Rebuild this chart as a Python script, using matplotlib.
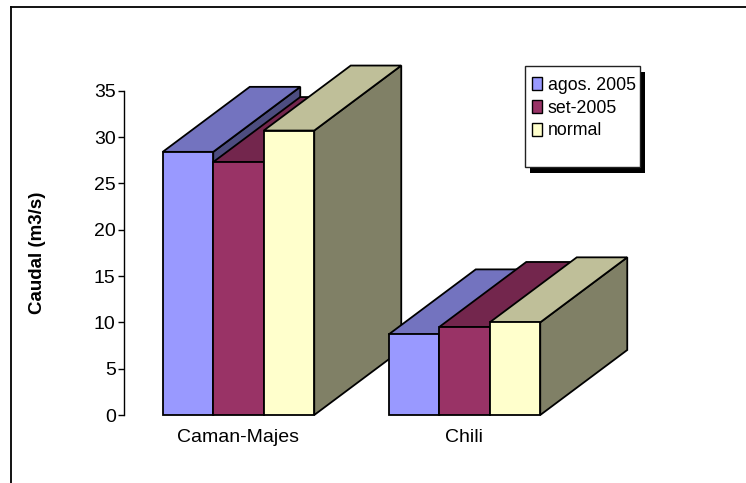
import matplotlib
matplotlib.use("Agg")
import matplotlib.pyplot as plt
from matplotlib.patches import Polygon, Rectangle, Patch
from matplotlib.lines import Line2D

plt.rcParams['font.family'] = ['Liberation Sans', 'DejaVu Sans']

categories = ["Caman-Majes", "Chili"]
series_names = ["agos. 2005", "set-2005", "normal"]
agos_2005 = [28.4, 8.7]
set_2005 = [27.3, 9.5]
normal = [30.7, 10.0]
values = [agos_2005, set_2005, normal]
y_ticks = [0, 5, 10, 15, 20, 25, 30, 35]

front_colors = ["#9999FF", "#993366", "#FFFFCC"]
top_colors = ["#7373BF", "#73264D", "#BFBF99"]
side_colors = ["#4D4D80", "#4D1A33", "#808066"]

W, H = 746, 483
fig = plt.figure(figsize=(W / 100, H / 100), dpi=100)
ax_l, ax_r, ax_b, ax_t = 124, 640, 415, 90.7
ax = fig.add_axes([ax_l / W, 1 - ax_b / H, (ax_r - ax_l) / W, (ax_b - ax_t) / H])

px_per_unit_x = 226.0
xmin = -(238.5 - ax_l) / px_per_unit_x
xmax = xmin + (ax_r - ax_l) / px_per_unit_x
ax.set_xlim(xmin, xmax)
ax.set_ylim(0, 35)
px_per_unit_y = (ax_b - ax_t) / 35.0

bar_w = 50.5 / px_per_unit_x
dx = 87.0 / px_per_unit_x
dy = 65.0 / px_per_unit_y
lw = 1.3

for i, cat in enumerate(categories):
    for j, vals in enumerate(values):
        v = vals[i]
        x0 = i + (j - 1.5) * bar_w
        x1 = x0 + bar_w
        front = Polygon([(x0, 0), (x1, 0), (x1, v), (x0, v)], closed=True,
                        facecolor=front_colors[j], edgecolor="black", lw=lw,
                        clip_on=False, joinstyle="miter")
        top = Polygon([(x0, v), (x1, v), (x1 + dx, v + dy), (x0 + dx, v + dy)], closed=True,
                      facecolor=top_colors[j], edgecolor="black", lw=lw,
                      clip_on=False, joinstyle="miter")
        side = Polygon([(x1, 0), (x1 + dx, dy), (x1 + dx, v + dy), (x1, v)], closed=True,
                       facecolor=side_colors[j], edgecolor="black", lw=lw,
                       clip_on=False, joinstyle="miter")
        ax.add_patch(side)
        ax.add_patch(top)
        ax.add_patch(front)

for s in ["top", "right", "bottom"]:
    ax.spines[s].set_visible(False)
ax.spines["left"].set_linewidth(1.0)
ax.set_yticks(y_ticks)
ax.set_yticklabels([str(t) for t in y_ticks], fontsize=14)
ax.tick_params(axis="y", length=4, width=1.0, pad=2)
ax.set_xticks(range(len(categories)))
ax.set_xticklabels(categories, fontsize=14)
ax.tick_params(axis="x", length=0, pad=10)
ax.patch.set_visible(False)

fig.text(38 / W, 1 - 253 / H, "Caudal (m3/s)", rotation=90, ha="center", va="center",
         fontsize=13.5, fontweight="bold")

# legend box with solid shadow (pixel coordinates)
lx0, ly0, lx1, ly1 = 525, 66, 640, 167
fig.add_artist(Rectangle((lx0 + 5, H - ly1 - 6), lx1 - lx0, ly1 - ly0, transform=None,
                         facecolor="black", edgecolor="none", zorder=3))
fig.add_artist(Rectangle((lx0, H - ly1), lx1 - lx0, ly1 - ly0, transform=None,
                         facecolor="white", edgecolor="#222222", lw=1.0, zorder=3.5))

handles = [Patch(facecolor=c, edgecolor="black", lw=1.0) for c in front_colors]
leg = fig.legend(handles, series_names, loc="upper left",
                 bbox_to_anchor=(532 / W, 1 - 77 / H), bbox_transform=fig.transFigure,
                 borderaxespad=0, frameon=False, fontsize=12.8,
                 handlelength=0.55, handleheight=0.75, handletextpad=0.35,
                 labelspacing=0.32, borderpad=0)
leg.set_zorder(4)

# outer chart-area border (left and top visible)
fig.add_artist(Line2D([11 / W, 11 / W], [0, 1 - 7 / H], color="black", lw=1.3,
                      transform=fig.transFigure))
fig.add_artist(Line2D([11 / W, 1], [1 - 7 / H, 1 - 7 / H], color="black", lw=1.3,
                      transform=fig.transFigure))

fig.savefig("out.png", dpi=100)
